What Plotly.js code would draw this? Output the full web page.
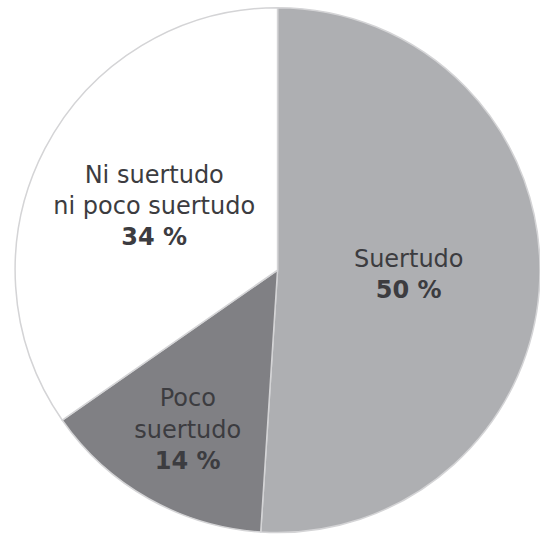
<!DOCTYPE html>
<html>
<head>
<meta charset="utf-8">
<script src="https://cdn.plot.ly/plotly-3.0.1.min.js"></script>
<style>html,body{margin:0;padding:0;background:#fff;}#chart{width:540px;height:538px;}</style>
</head>
<body>
<div id="chart"></div>
<script>
const categories = ["Suertudo", "Poco suertudo", "Ni suertudo ni poco suertudo"];
const displayLabels = ["Suertudo", "Poco<br>suertudo", "Ni suertudo<br>ni poco suertudo"];
const values = [50, 14, 34];
const sliceColors = ["#aeafb2", "#808084", "#ffffff"];

const trace = {
  type: "pie",
  labels: categories,
  values: values,
  customdata: displayLabels,
  sort: false,
  direction: "clockwise",
  rotation: 0,
  marker: { colors: sliceColors, line: { color: "#d4d4d6", width: 1.5 } },
  texttemplate: "%{customdata}<br><b>%{value} %</b>",
  textposition: "inside",
  insidetextorientation: "horizontal",
  textfont: { family: "DejaVu Sans, Arial, sans-serif", size: 24, color: "#3c3c40" },
  hoverinfo: "none",
  showlegend: false,
  domain: { x: [0.028, 1], y: [0.009, 0.987] }
};

Plotly.newPlot("chart", [trace], {
  width: 540, height: 538,
  margin: { l: 0, r: 0, t: 0, b: 0 },
  paper_bgcolor: "#ffffff",
  showlegend: false,
  uniformtext: { mode: false }
}, { displayModeBar: false, staticPlot: true });
</script>
</body>
</html>
